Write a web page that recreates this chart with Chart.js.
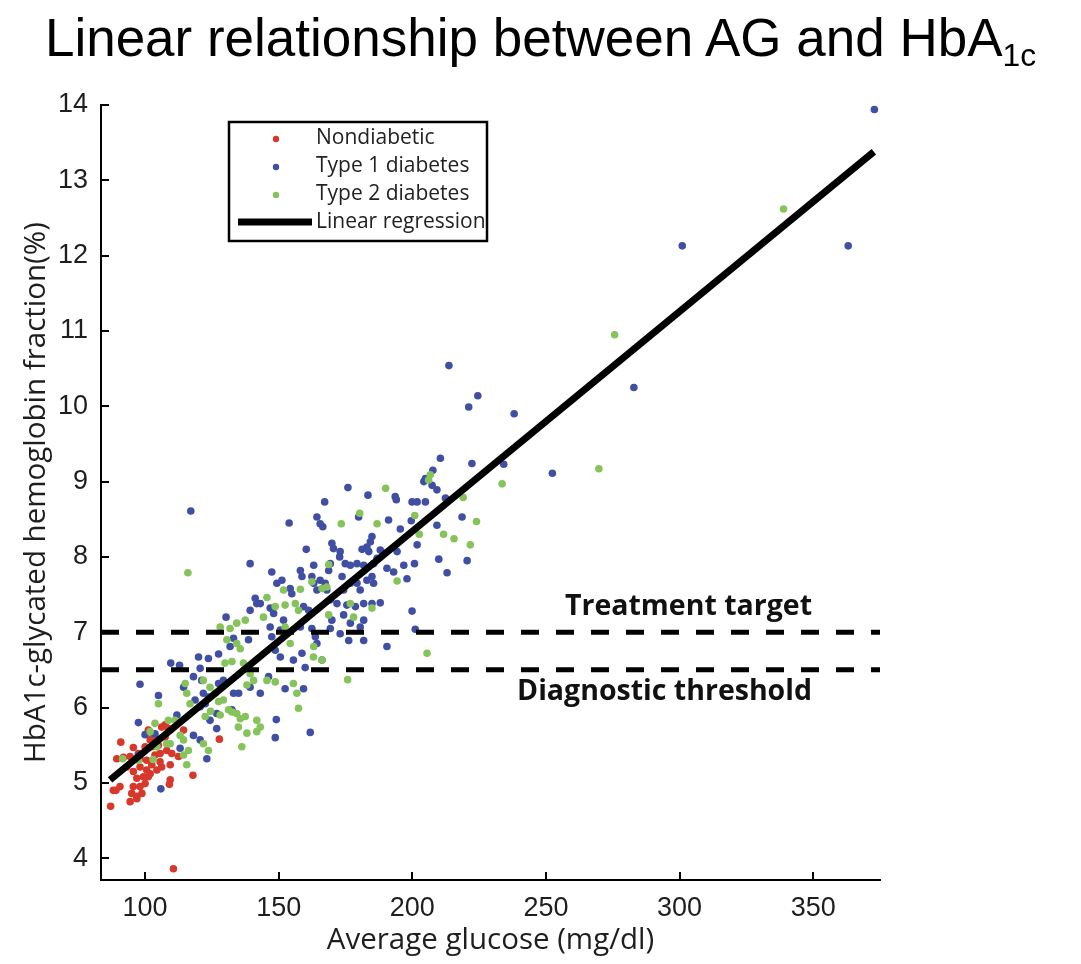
<!DOCTYPE html>
<html>
<head>
<meta charset="utf-8">
<title>Linear relationship between AG and HbA1c</title>
<script src="https://cdn.jsdelivr.net/npm/chart.js@4.4.1/dist/chart.umd.min.js"></script>
<style>
  html, body { margin: 0; padding: 0; background: #fff; }
  #wrap { position: relative; width: 1081px; height: 964px; }
  canvas { position: absolute; left: 0; top: 0; }
  #title {
    position: absolute; left: 0; top: 8px; width: 1081px; text-align: center;
    font-family: "Liberation Sans", Arial, sans-serif; font-size: 53px; line-height: 1.15; color: #000;
  }
  #title sub { font-size: 0.6em; vertical-align: -0.32em; line-height: 0; }
</style>
</head>
<body>
<div id="wrap">
  <canvas id="chart" width="1081" height="964"></canvas>
  <div id="title">Linear relationship between AG and HbA<sub>1c</sub></div>
</div>
<script>
// average glucose (mg/dl), HbA1c (%)
const nondiabetic = [
  [87.1,4.69],[88.1,4.90],[89.1,4.90],[90.6,4.95],[90.9,5.54],[89.4,5.32],[91.9,5.34],[93.1,5.21],
  [94.4,5.35],[95.6,5.47],[94.4,4.75],[95.0,4.86],[96.9,4.82],[95.6,4.95],[98.1,4.95],[98.8,4.86],
  [96.9,5.06],[99.4,5.08],[95.6,5.15],[98.1,5.21],[97.5,5.39],[98.1,5.32],[100.0,4.99],[100.6,5.17],
  [100.6,5.30],[100.0,5.48],[101.2,5.08],[101.9,5.12],[101.2,5.70],[101.9,5.57],[102.5,5.24],[102.5,5.48],
  [103.1,5.63],[103.7,5.37],[104.4,5.17],[104.4,5.57],[105.0,5.50],[105.6,5.28],[105.6,5.39],[106.2,5.21],
  [106.2,5.74],[107.5,5.61],[107.5,5.77],[108.1,5.43],[108.7,5.72],[109.1,4.98],[109.4,5.24],[109.4,5.70],
  [110.6,3.86],[114.4,5.70],[117.9,5.10],[127.8,5.58],[110.0,5.39],[112.5,5.35],[109.4,5.04],[96.9,4.79]
];

const type1 = [
  [98.1,6.31],[97.5,5.80],[100.0,5.64],[105.9,4.92],[123.1,5.32],[113.1,5.46],[103.7,5.65],[111.9,5.90],
  [97.5,5.37],
  [117.1,8.61],[130.3,7.20],[138.7,6.90],[133.1,6.92],[131.8,6.81],[148.7,6.76],[150.6,6.67],[120.0,6.67],
  [123.7,6.65],[127.5,6.71],[158.7,6.72],[155.5,6.63],[166.2,6.63],[109.6,6.59],[112.9,6.56],[120.6,6.52],
  [105.0,6.16],[121.2,6.36],[129.3,6.36],[127.5,6.32],[133.1,6.19],[135.0,6.19],[139.3,6.27],[143.1,6.19],
  [152.4,6.25],[159.3,6.25],[146.2,6.41],[132.5,5.97],[126.8,5.72],[149.1,5.84],[148.7,5.60],[161.8,5.67],
  [114.4,6.27],[118.1,6.41],[121.8,6.19],[123.7,6.14],[118.7,6.10],[120.6,6.01],[122.5,6.05],[118.1,5.63],
  [120.6,5.57],[124.3,5.83],[126.8,5.92],[159.9,6.53],
  [213.7,10.54],[224.5,10.14],[221.1,9.99],[210.5,9.31],[222.3,9.24],[207.7,9.15],[204.9,9.04],[204.3,9.00],
  [207.4,8.95],[209.2,8.89],[175.9,8.92],[183.4,8.82],[193.6,8.80],[194.0,8.76],[199.9,8.73],[201.8,8.73],
  [204.9,8.73],[167.2,8.73],[212.4,8.78],[218.6,8.53],[179.9,8.53],[191.1,8.49],[199.6,8.48],[153.9,8.45],
  [164.3,8.53],[165.5,8.44],[166.5,8.40],[209.2,8.42],[195.5,8.37],[184.9,8.27],[184.3,8.20],[201.8,8.16],
  [169.9,8.18],[170.5,8.11],[160.3,8.10],[173.0,8.07],[172.8,8.00],[181.2,8.10],[183.0,8.13],[183.7,8.07],
  [188.0,8.09],[189.3,8.05],[194.3,8.07],[209.9,7.97],[220.5,7.95],[213.0,7.79],[186.8,7.98],[185.5,7.91],
  [179.3,7.91],[181.8,7.89],[176.8,7.89],[174.9,7.91],[163.1,7.89],[169.3,7.91],[168.7,7.82],[190.5,7.85],
  [193.0,7.80],[196.8,7.89],[198.0,7.71],[200.8,7.91],[158.1,7.82],[158.7,7.74],[162.4,7.74],[183.0,7.69],
  [184.9,7.74],[185.5,7.65],[179.3,7.65],[180.5,7.56],[173.7,7.74],[176.8,7.65],[174.3,7.56],[165.5,7.69],
  [167.4,7.65],[168.0,7.56],[163.1,7.65],[164.3,7.56],[147.4,7.80],[151.2,7.69],[149.3,7.65],[141.2,7.45],
  [141.8,7.38],[146.8,7.32],[148.1,7.25],[154.3,7.58],[154.9,7.51],[159.3,7.34],[161.2,7.29],[169.3,7.43],
  [171.8,7.38],[175.5,7.36],[178.7,7.34],[181.8,7.38],[184.9,7.38],[188.0,7.39],[169.9,7.16],[174.3,7.23],
  [176.8,7.12],[181.8,7.16],[180.5,7.07],[199.9,7.28],[201.1,7.04],[190.5,6.81],[146.8,7.07],[150.6,7.03],
  [147.4,6.94],[158.1,7.07],[162.4,7.05],[163.7,6.94],[164.3,6.85],[169.3,7.05],[173.0,6.98],[176.2,6.89],
  [181.8,6.89],[139.3,7.91],[151.8,7.16],[139.3,7.29],[143.1,7.38],
  [372.9,13.94],[301.0,12.13],[363.1,12.13],[282.9,10.25],[238.1,9.90],[252.4,9.11],[234.2,9.23]
];

const type2 = [
  [91.6,5.32],[115.6,5.24],[116.2,5.43],[114.4,5.37],[105.0,6.05],[97.5,5.30],[103.0,5.31],[109.4,5.52],
  [113.1,5.63],[103.7,5.79],[122.5,5.88],[124.5,5.95],
  [116.0,7.79],[128.1,7.07],[131.8,7.05],[134.3,7.12],[137.5,7.16],[130.6,6.90],[134.3,6.85],[135.6,6.78],
  [129.9,6.59],[132.5,6.61],[136.8,6.59],[139.3,6.45],[140.6,6.36],[138.1,6.30],[145.6,6.36],[148.7,6.34],
  [155.5,6.32],[156.8,6.19],[157.4,5.99],[163.0,6.67],[166.2,6.63],[115.0,6.32],[115.6,6.19],[116.8,6.05],
  [121.8,6.36],[124.3,6.27],[126.2,6.19],[127.5,6.08],[129.3,6.10],[128.1,5.90],[131.2,5.97],[132.5,5.94],
  [134.3,5.92],[135.6,5.85],[137.5,5.88],[141.8,5.83],[143.1,5.74],[141.8,5.68],[134.9,5.74],[138.1,5.66],
  [136.2,5.48],[123.7,5.43],[121.8,5.52],[108.7,5.83],[111.2,5.83],[104.4,5.48],[108.1,5.52],[114.4,5.57],
  [101.9,5.68],[205.5,6.72],[175.8,6.37],
  [190.0,8.91],[180.3,8.58],[173.4,8.44],[186.8,8.44],[200.9,8.55],[206.7,9.09],[206.1,9.02],[219.0,8.79],
  [224.0,8.47],[202.6,8.30],[211.7,8.30],[215.6,8.24],[221.7,8.16],[194.3,7.68],[168.7,7.90],[162.4,7.67],
  [166.2,7.58],[168.0,7.60],[151.8,7.56],[158.1,7.57],[145.6,7.46],[148.7,7.34],[152.4,7.36],[156.2,7.38],
  [157.4,7.29],[168.7,7.23],[178.0,7.20],[176.8,7.38],[184.9,7.32],[144.3,7.20],[152.4,7.07],[154.3,6.85],
  [163.1,6.81],
  [338.9,12.62],[275.7,10.95],[269.8,9.17],[233.6,8.97]
];

const regressionX = [86.9, 372.7];
const regressionY = [5.04, 13.38];

const thresholdValues = [7, 6.5];
const thresholdNames = ['Treatment target', 'Diagnostic threshold'];

const xTickValues = [100, 150, 200, 250, 300, 350];
const yTickValues = [4, 5, 6, 7, 8, 9, 10, 11, 12, 13, 14];
const xRange = [83.5, 375];
const yRange = [3.71, 14];

const toPoints = arr => arr.map(p => ({ x: p[0], y: p[1] }));

const RED = '#d8382b', BLUE = '#404fa4', GREEN = '#86c35b';

const scatterSet = (label, pts, color, order) => ({
  label, data: toPoints(pts), backgroundColor: color, borderWidth: 0,
  pointRadius: 3.8, pointHoverRadius: 3.8, showLine: false, order, inLegend: true
});

const datasets = [
  scatterSet('Nondiabetic', nondiabetic, RED, 4),
  scatterSet('Type 1 diabetes', type1, BLUE, 3),
  scatterSet('Type 2 diabetes', type2, GREEN, 2),
  {
    label: 'Linear regression', inLegend: true, order: 0,
    data: regressionX.map((x, i) => ({ x, y: regressionY[i] })),
    showLine: true, borderColor: '#000', backgroundColor: '#000', borderWidth: 7,
    pointRadius: 0, borderCapStyle: 'butt'
  }
];
thresholdValues.forEach(v => datasets.push({
  label: 'threshold ' + v, order: 1,
  data: [{ x: xRange[0], y: v }, { x: xRange[1], y: v }],
  showLine: true, borderColor: '#000', borderWidth: 5, borderDash: [18, 17],
  pointRadius: 0, borderCapStyle: 'butt'
}));

// legend box drawn inside the plot
const legendBox = {
  id: 'legendBox',
  afterDraw(chart) {
    const ctx = chart.ctx;
    const left = 229, top = 122, w = 258, h = 119;
    ctx.save();
    ctx.fillStyle = '#fff';
    ctx.fillRect(left, top, w, h);
    ctx.lineWidth = 2.5;
    ctx.strokeStyle = '#000';
    ctx.strokeRect(left, top, w, h);
    ctx.font = '21px "Open Sans"';
    ctx.textBaseline = 'middle';
    chart.data.datasets.filter(d => d.inLegend).forEach((d, i) => {
      const y = 138 + i * 28;
      if (d.showLine) {
        ctx.fillStyle = '#000';
        ctx.fillRect(238, y - 3.5, 74, 7);
      } else {
        ctx.fillStyle = d.backgroundColor;
        ctx.beginPath();
        ctx.arc(276, y + 1, 3.2, 0, Math.PI * 2);
        ctx.fill();
      }
      ctx.fillStyle = '#222';
      ctx.fillText(d.label, 316, y);
    });
    ctx.restore();
  }
};

const thresholdLabels = {
  id: 'thresholdLabels',
  afterDatasetsDraw(chart) {
    const { ctx, scales: { y } } = chart;
    ctx.save();
    ctx.font = 'bold 28.5px "Open Sans"';
    ctx.textAlign = 'right';
    ctx.textBaseline = 'alphabetic';
    ctx.fillStyle = '#111';
    ctx.fillText(thresholdNames[0], 812, y.getPixelForValue(thresholdValues[0]) - 17);
    ctx.fillText(thresholdNames[1], 812, y.getPixelForValue(thresholdValues[1]) + 30);
    ctx.restore();
  }
};

// tick marks point into the plot
const innerTicks = {
  id: 'innerTicks',
  afterDraw(chart) {
    const { ctx, scales: { x, y } } = chart;
    ctx.save();
    ctx.strokeStyle = '#000';
    ctx.lineWidth = 2;
    ctx.beginPath();
    x.ticks.forEach(t => {
      const px = Math.round(x.getPixelForValue(t.value));
      ctx.moveTo(px, x.top);
      ctx.lineTo(px, x.top - 8);
    });
    y.ticks.forEach(t => {
      const py = Math.round(y.getPixelForValue(t.value));
      ctx.moveTo(y.right, py);
      ctx.lineTo(y.right + 8, py);
    });
    ctx.stroke();
    ctx.restore();
  }
};

const tickFont = { family: 'Liberation Sans', size: 27 };
const titleFont = { family: 'Open Sans', size: 29.5 };

new Chart(document.getElementById('chart'), {
  type: 'scatter',
  data: { datasets },
  plugins: [innerTicks, thresholdLabels, legendBox],
  options: {
    responsive: false,
    animation: false,
    events: [],
    layout: { padding: { top: 105, right: 201, left: 0, bottom: 0 } },
    plugins: { legend: { display: false }, tooltip: { enabled: false } },
    scales: {
      x: {
        type: 'linear', min: xRange[0], max: xRange[1],
        afterFit: s => { s.height = 84; },
        afterBuildTicks: s => { s.ticks = xTickValues.map(v => ({ value: v })); },
        grid: { display: false },
        border: { display: true, color: '#000', width: 2 },
        ticks: { font: tickFont, color: '#1e1e1e', padding: 4, maxRotation: 0 },
        title: { display: true, text: 'Average glucose (mg/dl)', font: titleFont, color: '#1e1e1e', padding: { top: 0, bottom: 6 } }
      },
      y: {
        type: 'linear', min: yRange[0], max: yRange[1],
        afterFit: s => { s.width = 101; },
        afterBuildTicks: s => { s.ticks = yTickValues.map(v => ({ value: v })); },
        grid: { display: false },
        border: { display: true, color: '#000', width: 2 },
        ticks: { font: tickFont, color: '#1e1e1e', padding: 5 },
        title: { display: true, text: 'HbA1c-glycated hemoglobin fraction(%)', font: titleFont, color: '#1e1e1e', padding: { top: 19, bottom: 0 } }
      }
    }
  }
});
</script>
</body>
</html>
